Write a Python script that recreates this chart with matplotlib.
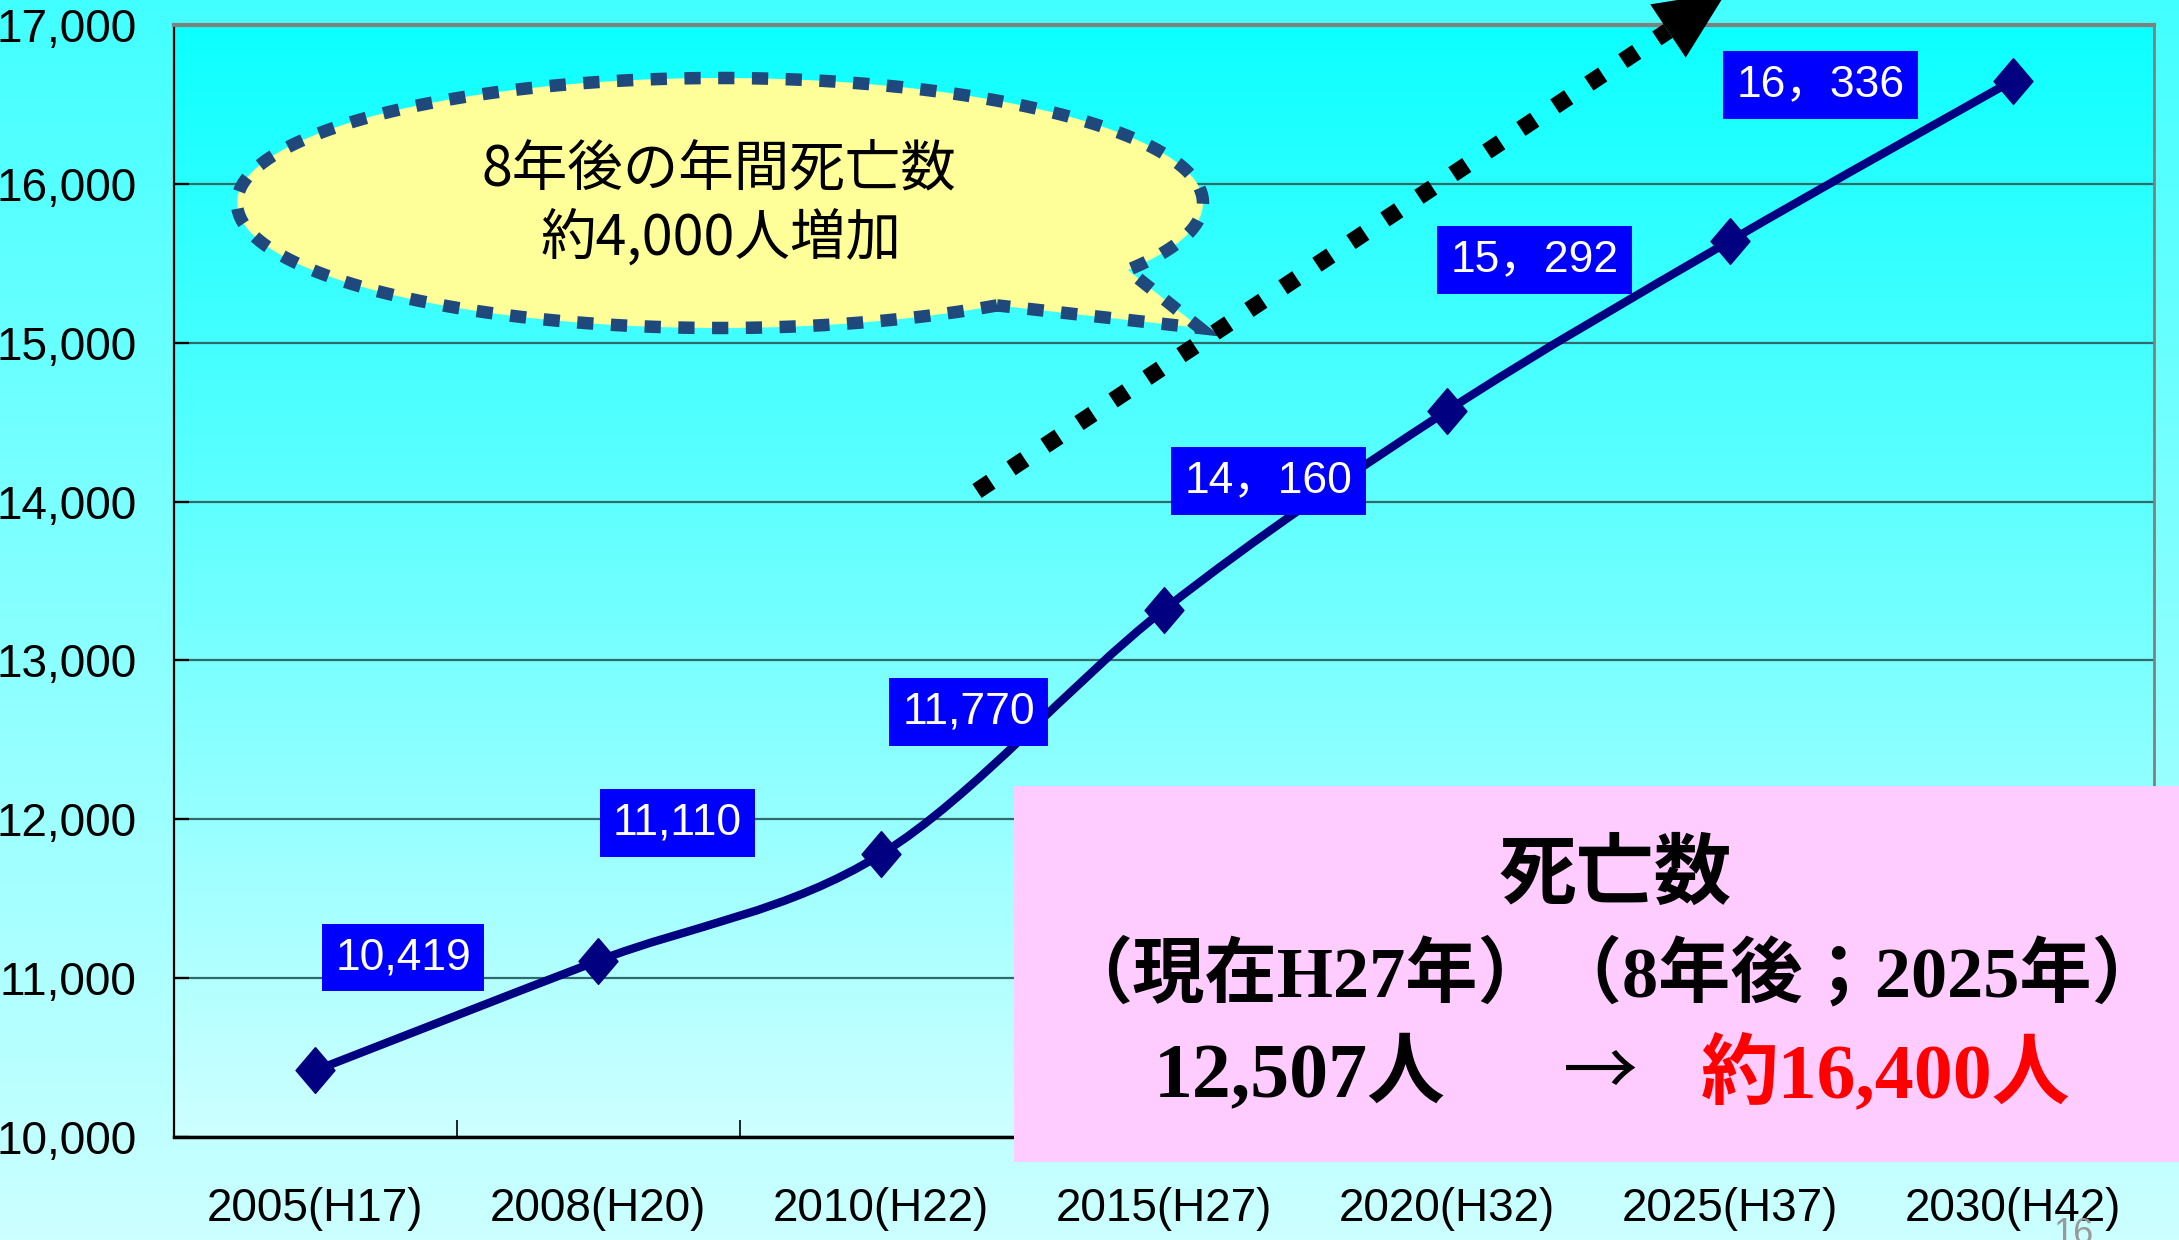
import numpy as np
import matplotlib
matplotlib.use("Agg")
import matplotlib.pyplot as plt
from matplotlib.path import Path
from matplotlib.patches import PathPatch, Rectangle, Polygon
from matplotlib.colors import LinearSegmentedColormap

# ---------------- data ----------------
categories = ['2005(H17)', '2008(H20)', '2010(H22)', '2015(H27)',
              '2020(H32)', '2025(H37)', '2030(H42)']
deaths = [10419, 11110, 11780, 13320, 14570, 15640, 16650]
label_texts = ['10,419', '11,110', '11,770', '14，160', '15，292', '16，336']
yticks = [10000, 11000, 12000, 13000, 14000, 15000, 16000, 17000]
ytick_labels = ['10,000', '11,000', '12,000', '13,000', '14,000', '15,000',
                '16,000', '17,000']

bubble_lines = ['8年後の年間死亡数', '約4,000人増加']
box_title = '死亡数'
box_line2 = '（現在H27年）（8年後；2025年）'
box_now = '12,507人'
box_arrow = '→'
box_future = '約16,400人'
page_no = '16'

# ---------------- layout (figure pixels) ----------------
W, H = 2179, 1240
DPI = 100
label_pos = [(0.31, 11129), (1.28, 11977), (2.31, 12677),
             (3.37, 14130), (4.31, 15520), (5.32, 16623)]

NUM_FONT = ['Liberation Sans', 'Noto Sans CJK JP', 'DejaVu Sans']
CJK_FONT = ['Noto Sans CJK JP', 'DejaVu Sans']
BOX_FONT = ['Liberation Serif', 'Noto Sans CJK JP', 'DejaVu Sans']

fig = plt.figure(figsize=(W / DPI, H / DPI), dpi=DPI)

# figure background gradient
bg = fig.add_axes([0, 0, 1, 1], zorder=0)
bg_cmap = LinearSegmentedColormap.from_list('bg', ['#42FFFF', '#CCFFFF'])
bg.imshow(np.linspace(0, 1, 256).reshape(-1, 1), cmap=bg_cmap, aspect='auto',
          extent=[0, 1, 0, 1], origin='upper')
bg.set_axis_off()

# main axes
L, R, T, B = 174, 2154, 25, 1137
ax = fig.add_axes([L / W, 1 - B / H, (R - L) / W, (B - T) / H], zorder=1)
ax.set_facecolor('none')
ax_cmap = LinearSegmentedColormap.from_list('ax', ['#0CFFFF', '#CEFFFF'])
ax.imshow(np.linspace(0, 1, 256).reshape(-1, 1), cmap=ax_cmap, aspect='auto',
          extent=[-0.5, len(categories) - 0.5, yticks[0], yticks[-1]],
          origin='upper', zorder=0)
ax.set_xlim(-0.5, len(categories) - 0.5)
ax.set_ylim(yticks[0], yticks[-1])

ax.yaxis.grid(True, color='#2F6B6B', lw=1.6, zorder=1)
ax.set_yticks(yticks)
ax.set_yticklabels(ytick_labels, family=NUM_FONT, fontsize=33)
ax.tick_params(axis='y', direction='in', length=11, width=1.6, color='black', pad=27)

xs = np.arange(len(categories))
ax.set_xticks(np.arange(-0.5, len(categories), 1.0))
ax.set_xticklabels([])
ax.set_xticks(xs, minor=True)
ax.set_xticklabels(categories, minor=True, family=NUM_FONT, fontsize=33)
ax.tick_params(axis='x', which='major', direction='in', length=12, width=1.2, color='black')
ax.tick_params(axis='x', which='minor', length=0, pad=36)

ax.spines['left'].set_color('black'); ax.spines['left'].set_linewidth(1.6)
ax.spines['bottom'].set_color('black'); ax.spines['bottom'].set_linewidth(2.5)
ax.spines['top'].set_color('#808080'); ax.spines['top'].set_linewidth(3)
ax.spines['right'].set_color('#808080'); ax.spines['right'].set_linewidth(2)

# smoothed line (Bezier through the data points)
pts = np.column_stack([xs, deaths]).astype(float)
verts = [tuple(pts[0])]
codes = [Path.MOVETO]
n = len(pts)
for i in range(n - 1):
    p0 = pts[i - 1] if i > 0 else pts[i]
    p1 = pts[i]
    p2 = pts[i + 1]
    p3 = pts[i + 2] if i + 2 < n else pts[i + 1]
    c1 = p1 + (p2 - p0) / 6.0
    c2 = p2 - (p3 - p1) / 6.0
    verts += [tuple(c1), tuple(c2), tuple(p2)]
    codes += [Path.CURVE4] * 3
ax.add_patch(PathPatch(Path(verts, codes), fc='none', ec='#000080', lw=6,
                       zorder=3, capstyle='round', joinstyle='round'))
diamond = [(0, 1), (0.85, 0), (0, -1), (-0.85, 0), (0, 1)]
ax.plot(xs, deaths, ls='none', marker=diamond, ms=33, color='#000080',
        mec='#000080', zorder=4)

# data labels
for (lx, ly), txt in zip(label_pos, label_texts):
    ax.text(lx, ly, txt, ha='center', va='center', color='white', fontsize=32,
            family=NUM_FONT, zorder=5,
            bbox=dict(boxstyle='square,pad=0.3', fc='#0000FF', ec='none'))

# ---------------- overlay (figure pixel coordinates) ----------------
ov = fig.add_axes([0, 0, 1, 1], zorder=2)
ov.set_xlim(0, W)
ov.set_ylim(H, 0)
ov.set_axis_off()
ov.patch.set_alpha(0)

# speech bubble
cx, cy, a, b = 720, 203, 483, 125
t = np.deg2rad(np.linspace(55, 32.4 + 360, 240))
bx = cx + a * np.cos(t)
by = cy + b * np.sin(t)
bub = np.column_stack([np.append(bx, 1200), np.append(by, 328)])
ov.add_patch(Polygon(bub, closed=True, fc='#FFFF99', ec='#1F497D', lw=9,
                     ls=(0, (1.3, 1.4)), capstyle='butt', joinstyle='miter'))
ov.text(719, 170, bubble_lines[0], ha='center', va='center', fontsize=40,
        family=CJK_FONT)
ov.text(721, 239, bubble_lines[1], ha='center', va='center', fontsize=40,
        family=CJK_FONT)

# dotted arrow
p_start = np.array([977.0, 491.0])
p_base = np.array([1668.0, 31.0])
u = (p_base - p_start) / np.linalg.norm(p_base - p_start)
nrm = np.array([-u[1], u[0]])
ov.plot([p_start[0], p_base[0]], [p_start[1], p_base[1]], color='black', lw=12,
        ls=(0, (1.0, 1.45)), dash_capstyle='butt')
tip = p_base + u * 70
ov.add_patch(Polygon([p_base + nrm * 32, tip, p_base - nrm * 32], closed=True,
                     fc='black', ec='none'))

# pink summary box
ov.add_patch(Rectangle((1014, 786), W - 1014, 1162 - 786, fc='#FFCCFF', ec='none'))
ov.text(1615, 878, box_title, ha='center', va='center', fontsize=56,
        weight='bold', family=BOX_FONT)
ov.text(1612, 976, box_line2, ha='center', va='center', fontsize=52,
        weight='bold', family=BOX_FONT)
ov.text(1300, 1075, box_now, ha='center', va='center', fontsize=56,
        weight='bold', family=BOX_FONT)
ov.text(1601, 1075, box_arrow, ha='center', va='center', fontsize=54,
        family=CJK_FONT)
ov.text(1886, 1075, box_future, ha='center', va='center', fontsize=56,
        weight='bold', family=BOX_FONT, color='#FF0000')

# page number
ov.text(2073, 1217, page_no, ha='center', va='top', fontsize=26,
        color='#999999', family=NUM_FONT)

fig.savefig('out.png', dpi=DPI)
